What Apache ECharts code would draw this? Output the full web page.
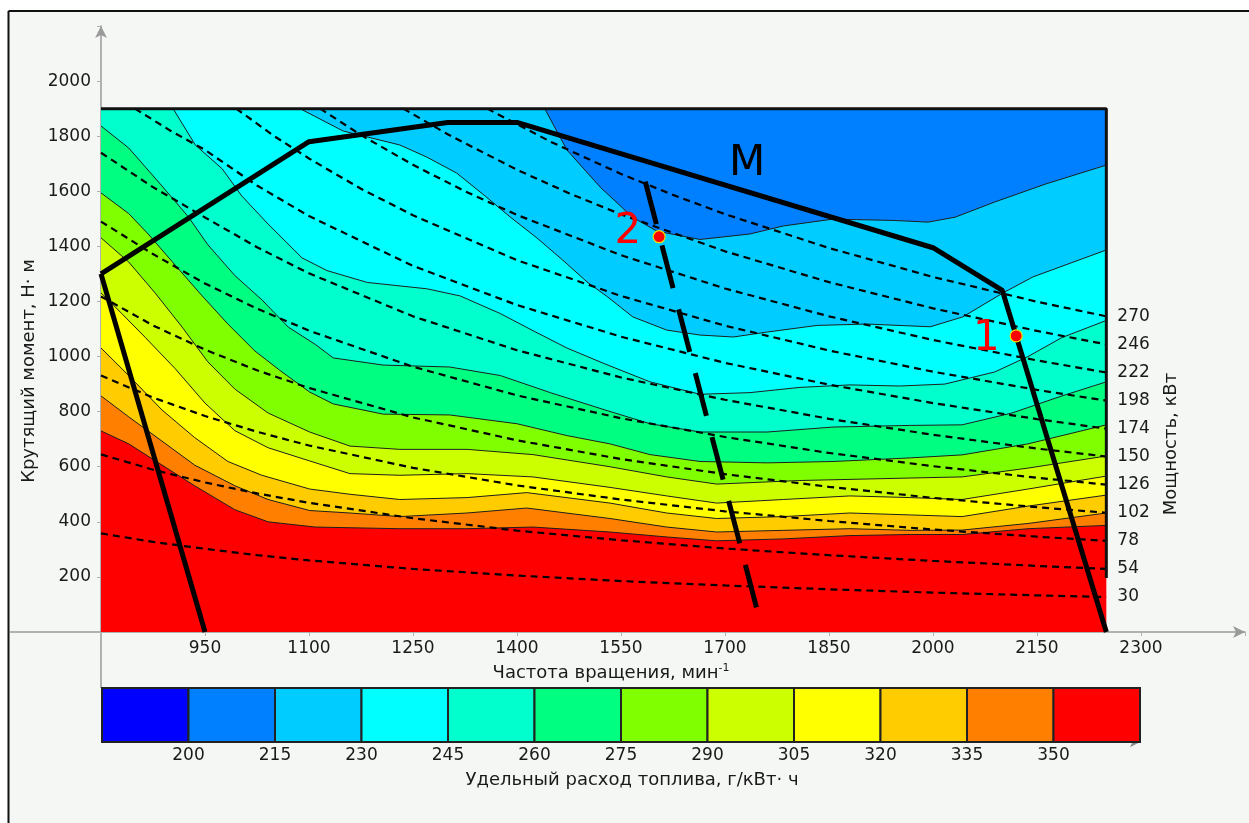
<!DOCTYPE html>
<html><head><meta charset="utf-8">
<script src="https://cdn.jsdelivr.net/npm/echarts@6/dist/echarts.min.js"></script>
<style>html,body{margin:0;padding:0;background:#fff;}#c{width:1249px;height:823px;}</style>
</head><body><div id="c"></div>
<script>
// ---------- DATA ----------
// Specific fuel consumption colour scale, g/kWh
const scaleBins = [185,200,215,230,245,260,275,290,305,320,335,350,365];
const scaleColors = ['#0000ff','#0080ff','#00ccff','#00ffff','#00ffcc','#00ff80','#80ff00','#ccff00','#ffff00','#ffcc00','#ff8000','#ff0000'];
// contour levels (g/kWh); each contour is [rpm, N·m] points
const levels = [350,335,320,305,290,275,260,245,230,215];
const contour350 = [[800,730],[840,683],[888,606],[935,531],[993,444],[1041,400],[1109,381],[1231,375],[1328,375],[1423,381],[1534,363],[1616,345],[1688,331],[1784,338],[1880,350],[1967,354],[2042,354],[2137,375],[2250,387]];
const contour335 = [[800,857],[840,781],[888,693],[935,606],[993,531],[1041,481],[1101,441],[1159,432],[1231,419],[1328,432],[1414,450],[1534,412],[1616,381],[1688,363],[1784,369],[1880,375],[1967,369],[2042,370],[2137,394],[2250,432]];
const contour320 = [[800,1031],[840,931],[888,806],[935,706],[983,619],[1032,569],[1101,519],[1159,500],[1231,481],[1328,488],[1414,506],[1534,468],[1616,432],[1688,412],[1784,419],[1880,432],[1967,425],[2042,419],[2137,457],[2250,497]];
const contour305 = [[800,1231],[830,1156],[864,1069],[907,956],[950,831],[993,731],[1041,669],[1101,621],[1159,575],[1231,569],[1328,575],[1423,563],[1534,525],[1616,494],[1688,468],[1784,481],[1880,494],[1967,488],[2042,481],[2137,519],[2250,566]];
const contour290 = [[800,1431],[840,1343],[878,1231],[917,1107],[954,981],[993,882],[1041,795],[1101,726],[1159,675],[1231,663],[1328,663],[1423,644],[1534,600],[1616,563],[1688,537],[1808,550],[1967,559],[2042,563],[2137,595],[2250,639]];
const contour275 = [[800,1594],[840,1519],[868,1445],[907,1332],[946,1220],[983,1118],[1022,1020],[1061,944],[1101,871],[1135,828],[1207,791],[1303,788],[1400,756],[1472,713],[1534,683],[1592,644],[1664,619],[1761,614],[1856,619],[1967,632],[2042,643],[2137,683],[2250,752]];
const contour260 = [[800,1837],[840,1757],[888,1619],[926,1507],[954,1406],[993,1294],[1032,1206],[1070,1107],[1109,1044],[1135,995],[1207,969],[1303,962],[1376,931],[1448,869],[1527,806],[1592,756],[1664,726],[1761,726],[1856,744],[1967,750],[2042,752],[2114,795],[2186,857],[2250,908]];
const contour245 = [[904,1900],[936,1768],[975,1681],[1003,1583],[1041,1481],[1090,1358],[1126,1312],[1184,1269],[1270,1246],[1318,1220],[1376,1156],[1423,1094],[1472,1031],[1527,973],[1592,908],[1664,863],[1736,869],[1808,888],[1880,897],[1952,893],[2017,900],[2089,944],[2137,1000],[2186,1069],[2250,1131]];
const contour230 = [[1087,1900],[1149,1819],[1231,1768],[1270,1724],[1313,1666],[1354,1583],[1390,1507],[1429,1430],[1466,1350],[1501,1271],[1531,1216],[1567,1144],[1616,1096],[1664,1078],[1712,1071],[1761,1089],[1833,1113],[1905,1118],[1996,1108],[2043,1144],[2101,1231],[2144,1289],[2250,1387]];
const contour215 = [[1440,1900],[1472,1750],[1520,1615],[1567,1505],[1602,1455],[1664,1425],[1736,1445],[1784,1474],[1856,1499],[1945,1494],[1993,1488],[2032,1506],[2089,1561],[2162,1626],[2250,1695]];
const contours = [contour350,contour335,contour320,contour305,contour290,contour275,contour260,contour245,contour230,contour215];

// constant-power lines (kW), [rpm, N·m]
const powerLevels = [30,54,78,102,126,150,174,198,222,246,270];
const power30  = [[800,358],[875,327],[950,302],[1025,279],[1100,260],[1250,229],[1400,205],[1550,185],[1700,169],[1850,155],[2000,143],[2150,133],[2250,127]];
const power54  = [[800,645],[875,589],[950,543],[1025,503],[1100,469],[1250,413],[1400,368],[1550,333],[1700,303],[1850,279],[2000,258],[2150,240],[2250,229]];
const power78  = [[800,931],[875,851],[950,784],[1025,727],[1100,677],[1250,596],[1400,532],[1550,481],[1700,438],[1850,403],[2000,372],[2150,346],[2250,331]];
const power102 = [[800,1218],[875,1113],[950,1025],[1025,950],[1100,886],[1250,779],[1400,696],[1550,628],[1700,573],[1850,527],[2000,487],[2150,453],[2250,433]];
const power126 = [[800,1490],[875,1372],[950,1265],[1025,1174],[1100,1094],[1250,963],[1400,859],[1550,776],[1700,708],[1850,650],[2000,602],[2150,560],[2250,535]];
const power150 = [[800,1740],[875,1615],[950,1505],[1025,1397],[1100,1302],[1250,1146],[1400,1023],[1550,924],[1700,843],[1850,774],[2000,716],[2150,666],[2250,637]];
const power174 = [[849,1900],[900,1820],[950,1750],[1025,1621],[1100,1510],[1250,1329],[1400,1187],[1550,1072],[1700,977],[1850,898],[2000,831],[2150,773],[2250,738]];
const power198 = [[995,1900],[1050,1800],[1100,1719],[1175,1609],[1250,1513],[1400,1350],[1550,1220],[1700,1112],[1850,1022],[2000,945],[2150,879],[2250,840]];
const power222 = [[1116,1900],[1175,1804],[1250,1696],[1325,1600],[1400,1514],[1550,1368],[1700,1247],[1850,1146],[2000,1060],[2150,986],[2250,942]];
const power246 = [[1236,1900],[1300,1807],[1400,1678],[1475,1593],[1550,1516],[1700,1382],[1850,1270],[2000,1175],[2150,1093],[2250,1044]];
const power270 = [[1357,1900],[1450,1778],[1550,1663],[1625,1587],[1700,1517],[1850,1394],[2000,1289],[2150,1199],[2250,1146]];
const powerLines = [power30,power54,power78,power102,power126,power150,power174,power198,power222,power246,power270];

// torque curve M and regulator branches
const torqueCurve = [[800,1300],[1100,1780],[1300,1850],[1400,1850],[2000,1395],[2100,1240],[2250,0]];
const leftBranch = [[800,1300],[950,0]];
const line2 = [[1585,1635],[1750,45]];
const pointsOp = [[1605,1435],[2120,1075]];
const pointLabels = [{t:'2',v:[1560,1452]},{t:'1',v:[2077,1063]},{t:'M',v:[1732,1699]}];
const mapFrame = [[800,1900],[2250,1900],[2250,196]];

// ---------- CHART ----------
const FONT = 'DejaVu Sans';
const TXT = '#1a1a1a';
const nMin = 800, nMax = 2250, mMin = 0, mMax = 1900;

const regions = [{pts:[[nMin,mMin],[nMax,mMin],[nMax,mMax],[nMin,mMax]], color: scaleColors[11]}];
levels.forEach((lv,k)=>{
  const c = contours[k];
  const close = c[0][1] >= mMax ? [[nMax,mMax]] : [[nMax,mMax],[nMin,mMax]];
  regions.push({pts: c.concat(close), color: scaleColors[(lv-200)/15]});
});

const series = [];
series.push({
  type:'custom', xAxisIndex:0, yAxisIndex:0, z:1, silent:true,
  data: regions.map(r=>r.pts[0]),
  renderItem:(params,api)=>{
    const r = regions[params.dataIndex];
    return {type:'polygon', shape:{points:r.pts.map(p=>api.coord(p))}, style:{fill:r.color}};
  }
});
contours.forEach(c=>{
  series.push({type:'line', data:c, symbol:'none', silent:true, z:2,
    lineStyle:{color:'#1e1e1e', width:1}});
});
powerLines.forEach((p,i)=>{
  series.push({type:'line', name:String(powerLevels[i]), data:p, symbol:'none', silent:true, z:3,
    smooth:false,
    lineStyle:{color:'#000', width:2.2, type:[7,5]},
    endLabel:{show:true, formatter:String(powerLevels[i]), distance:11, fontFamily:FONT, fontSize:17, color:TXT}});
});
series.push({type:'line', data:mapFrame, symbol:'none', silent:true, z:4, lineStyle:{color:'#111', width:3}});
series.push({type:'line', data:torqueCurve, symbol:'none', silent:true, z:5, lineStyle:{color:'#000', width:5}});
series.push({type:'line', data:leftBranch, symbol:'none', silent:true, z:5, lineStyle:{color:'#000', width:5}});
series.push({type:'line', data:line2, symbol:'none', silent:true, z:5, lineStyle:{color:'#000', width:5, type:[44,22]}});
series.push({type:'scatter', data:pointsOp, symbolSize:12, z:6, silent:true,
  itemStyle:{color:'#ff0000', borderColor:'#f0e000', borderWidth:1.2, opacity:1}});
series.push({
  type:'custom', xAxisIndex:0, yAxisIndex:0, z:7, silent:true,
  data: pointLabels.map(d=>d.v),
  renderItem:(params,api)=>{
    const d = pointLabels[params.dataIndex];
    const p = api.coord(d.v);
    return {type:'text', x:p[0], y:p[1], style:{text:d.t, fill: d.t==='M' ? '#000' : '#ff0000',
      fontFamily:FONT, fontSize:42, align:'center', verticalAlign:'middle'}};
  }
});
// colour bar
series.push({
  type:'custom', xAxisIndex:1, yAxisIndex:1, z:2, silent:true,
  data: scaleColors.map((c,i)=>[scaleBins[i], scaleBins[i+1]]),
  renderItem:(params,api)=>{
    const p0 = api.coord([api.value(0),1]);
    const p1 = api.coord([api.value(1),0]);
    return {type:'rect', shape:{x:p0[0], y:p0[1], width:p1[0]-p0[0], height:p1[1]-p0[1]},
      style:{fill:scaleColors[params.dataIndex], stroke:'#222', lineWidth:2}};
  }
});

const axisGray = '#9a9a9a';
const option = {
  backgroundColor:'#f4f7f4',
  animation:false,
  textStyle:{fontFamily:FONT},
  grid:[
    {left:101, top:26, right:4, bottom:191, containLabel:false},
    {left:102, top:688, width:1038, height:54, containLabel:false}
  ],
  xAxis:[
    {gridIndex:0, type:'value', min:800, max:2450, interval:150,
     axisLine:{show:true, onZero:false, symbol:['none','arrow'], symbolSize:[9,12], lineStyle:{color:axisGray, width:1.5}},
     axisTick:{show:true, length:4, lineStyle:{color:'#b0b0b0'}},
     axisLabel:{formatter:v=>(v>800 && v<2450)?String(v):'', fontFamily:FONT, fontSize:17, color:TXT, margin:8},
     splitLine:{show:false}},
    {gridIndex:1, type:'value', min:185, max:365, interval:15,
     axisLine:{show:true, onZero:false, symbol:['none','arrow'], symbolSize:[8,10], lineStyle:{color:'#888', width:1.5}},
     axisTick:{show:false},
     axisLabel:{formatter:v=>(v>=200 && v<=350)?String(v):'', fontFamily:FONT, fontSize:17, color:TXT, margin:5},
     splitLine:{show:false}}
  ],
  yAxis:[
    {gridIndex:0, type:'value', min:0, max:2200, interval:200,
     axisLine:{show:true, onZero:false, symbol:['none','arrow'], symbolSize:[9,12], lineStyle:{color:axisGray, width:1.5}},
     axisTick:{show:true, length:4, lineStyle:{color:'#b0b0b0'}},
     axisLabel:{formatter:v=>(v>0 && v<2200)?String(v):'', fontFamily:FONT, fontSize:17, color:TXT, margin:10},
     splitLine:{show:false}},
    {gridIndex:1, type:'value', min:0, max:1, show:false}
  ],
  graphic:[
    {type:'rect', silent:true, shape:{x:0,y:0,width:1249,height:10}, style:{fill:'#fff'}},
    {type:'rect', silent:true, shape:{x:0,y:0,width:7.5,height:823}, style:{fill:'#fff'}},
    {type:'line', silent:true, shape:{x1:8.5,y1:11,x2:1249,y2:11}, style:{stroke:'#111', lineWidth:2}},
    {type:'line', silent:true, shape:{x1:8.5,y1:11,x2:8.5,y2:823}, style:{stroke:'#111', lineWidth:2}},
    {type:'line', silent:true, shape:{x1:10,y1:632,x2:101,y2:632}, style:{stroke:axisGray, lineWidth:1.5}},
    {type:'line', silent:true, shape:{x1:101,y1:632,x2:101,y2:688}, style:{stroke:axisGray, lineWidth:1.5}},
    {type:'text', silent:true, x:29, y:371, rotation:Math.PI/2,
     style:{text:'Крутящий момент, Н· м', fontFamily:FONT, fontSize:18, fill:TXT, align:'center', verticalAlign:'middle'}},
    {type:'text', silent:true, x:1171, y:444, rotation:Math.PI/2,
     style:{text:'Мощность, кВт', fontFamily:FONT, fontSize:18, fill:TXT, align:'center', verticalAlign:'middle'}},
    {type:'text', silent:true, x:611, y:673,
     style:{text:'{a|Частота вращения, мин}{s|-1}', align:'center', verticalAlign:'middle',
       rich:{a:{fontFamily:FONT, fontSize:18, fill:TXT, lineHeight:21},
             s:{fontFamily:FONT, fontSize:11, fill:TXT, lineHeight:12, verticalAlign:'top'}}}},
    {type:'text', silent:true, x:632, y:780,
     style:{text:'Удельный расход топлива, г/кВт· ч', fontFamily:FONT, fontSize:18, fill:TXT, align:'center', verticalAlign:'middle'}}
  ],
  series: series
};
const chart = echarts.init(document.getElementById('c'));
chart.setOption(option);
</script>
</body></html>
